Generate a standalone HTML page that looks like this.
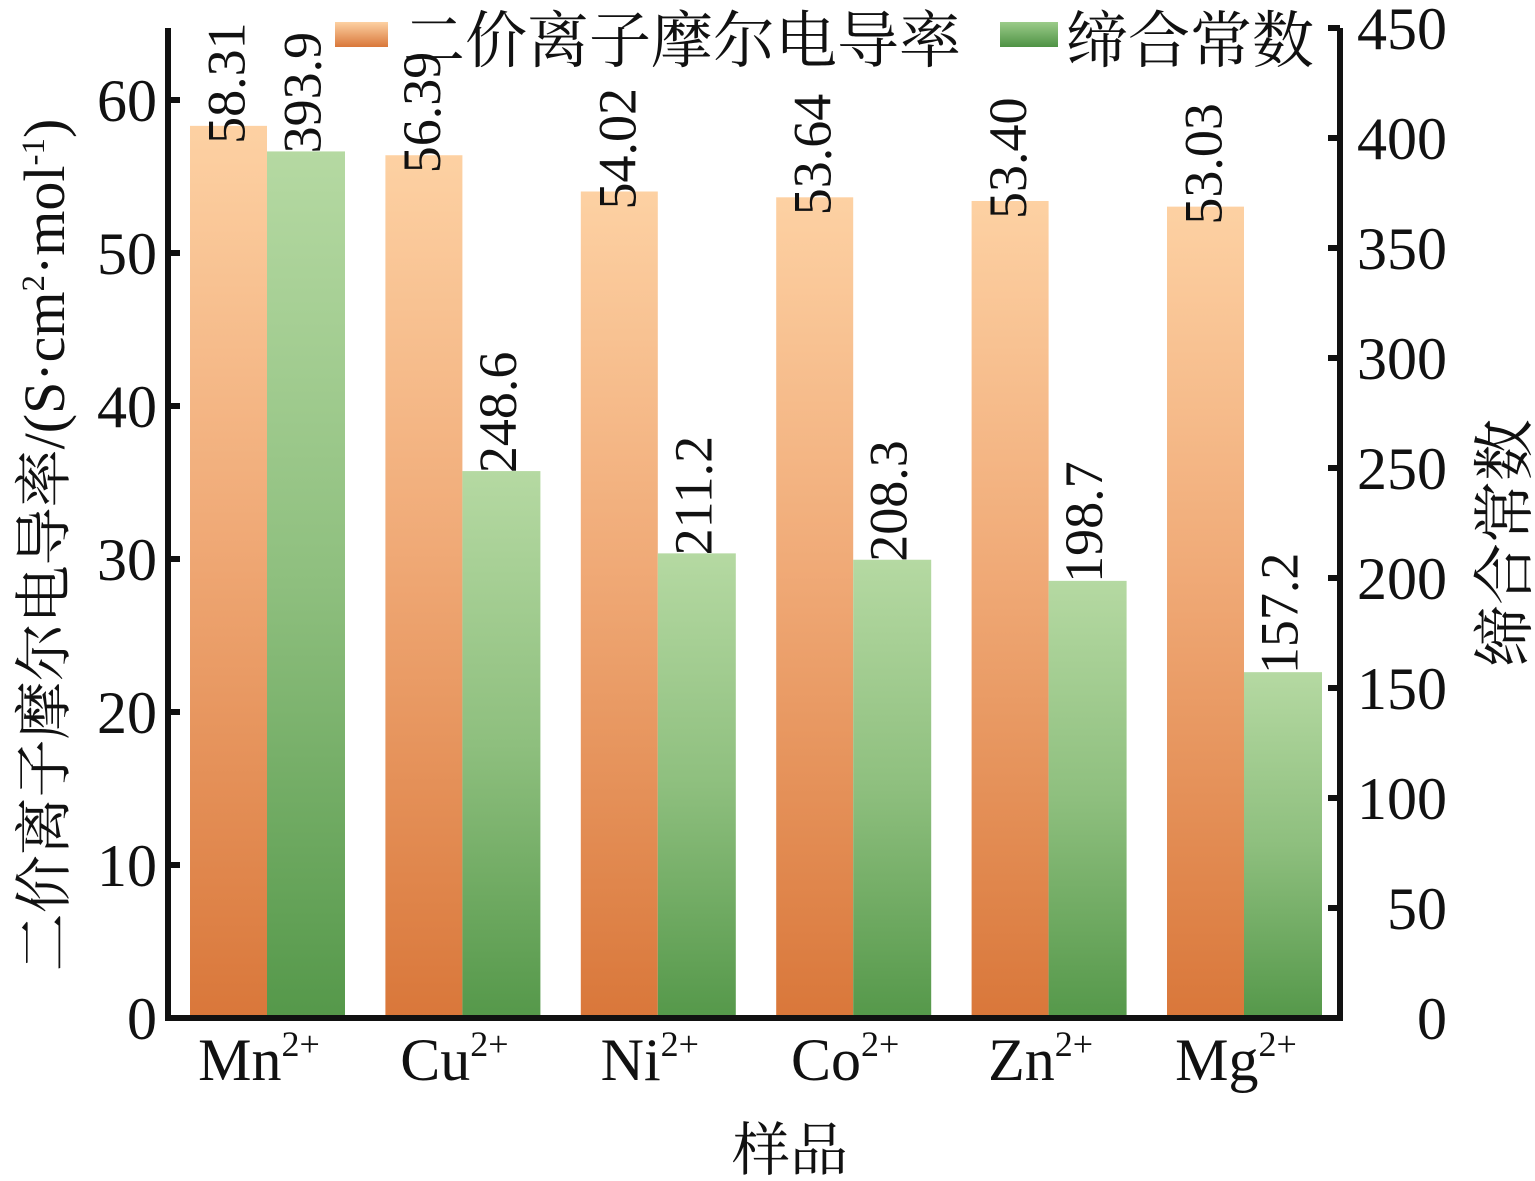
<!DOCTYPE html>
<html><head><meta charset="utf-8"><style>
html,body{margin:0;padding:0;background:#fff;}
svg{display:block;}
text{font-family:"Liberation Serif","Noto Serif CJK SC",serif;fill:#111;}
</style></head><body>
<svg id="chart" width="1535" height="1181" viewBox="0 0 1535 1181">
<defs>
<linearGradient id="gO" x1="0" y1="0" x2="0" y2="1"><stop offset="0" stop-color="#fdd1a3"/><stop offset="0.45" stop-color="#f0aa77"/><stop offset="1" stop-color="#d9773a"/></linearGradient>
<linearGradient id="gG" x1="0" y1="0" x2="0" y2="1"><stop offset="0" stop-color="#b5d9a2"/><stop offset="0.5" stop-color="#8ebf7e"/><stop offset="1" stop-color="#55984a"/></linearGradient>
<linearGradient id="lgO" x1="0" y1="0" x2="0" y2="1"><stop offset="0" stop-color="#fdd1a3"/><stop offset="1" stop-color="#d9773a"/></linearGradient>
<linearGradient id="lgG" x1="0" y1="0" x2="0" y2="1"><stop offset="0" stop-color="#9ccc8a"/><stop offset="1" stop-color="#4e9244"/></linearGradient>
</defs>
<g id="bars"></g>
<g id="labels"></g>
<g id="axes"></g>
<g>
<rect x="335" y="22" width="53" height="25" fill="url(#lgO)"/>
<text x="403" y="62" font-size="62">二价离子摩尔电导率</text>
<rect x="1000" y="22" width="58" height="25" fill="url(#lgG)"/>
<text x="1066" y="62" font-size="62">缔合常数</text>
</g>
<text transform="translate(64,545) rotate(-90)" text-anchor="middle" font-size="58">二价离子摩尔电导率/(S·cm<tspan font-size="33" dy="-20">2</tspan><tspan dy="20">·mol</tspan><tspan font-size="33" dy="-20">-1</tspan><tspan dy="20">)</tspan></text>
<text transform="translate(1526,543) rotate(-90)" text-anchor="middle" font-size="62">缔合常数</text>
<text x="790" y="1170" text-anchor="middle" font-size="58">样品</text>
</svg>
<script>
const categories = ["Mn", "Cu", "Ni", "Co", "Zn", "Mg"];
const conductivity = [58.31, 56.39, 54.02, 53.64, 53.40, 53.03];
const association = [393.9, 248.6, 211.2, 208.3, 198.7, 157.2];
const conductivityLabels = ["58.31", "56.39", "54.02", "53.64", "53.40", "53.03"];
const associationLabels = ["393.9", "248.6", "211.2", "208.3", "198.7", "157.2"];
const leftTicks = [0, 10, 20, 30, 40, 50, 60];
const rightTicks = [0, 50, 100, 150, 200, 250, 300, 350, 400, 450];

const NS = "http://www.w3.org/2000/svg";
const X0 = 168, X1 = 1340, Y0 = 1018;
const yL = v => Y0 - v * (918 / 60);
const yR = v => Y0 - v * (990 / 450);
const groupX = i => 190 + i * 195.4;
const BW = 77;
function mk(tag, attrs, parent) {
  const e = document.createElementNS(NS, tag);
  for (const k in attrs) e.setAttribute(k, attrs[k]);
  parent.appendChild(e);
  return e;
}
const bars = document.getElementById("bars");
const labels = document.getElementById("labels");
const axes = document.getElementById("axes");

categories.forEach((c, i) => {
  const x = groupX(i);
  const yo = yL(conductivity[i]);
  const r1 = mk("rect", {x: x, y: yo, width: BW, height: Y0 - yo, fill: "url(#gO)"}, bars);
  
  
  const yg = yR(association[i]);
  const r2 = mk("rect", {x: x + BW, y: yg, width: BW + 1, height: Y0 - yg, fill: "url(#gG)"}, bars);
  
  

  const t1 = mk("text", {transform: "translate(" + (x + BW / 2 + 16) + "," + (yo + 18) + ") rotate(-90)", "font-size": "54"}, labels);
  t1.textContent = conductivityLabels[i];
  
  
  const t2 = mk("text", {transform: "translate(" + (x + BW + BW / 2 + 15) + "," + (yg + 2) + ") rotate(-90)", "font-size": "54"}, labels);
  t2.textContent = associationLabels[i];
  
  

  const xl = mk("text", {x: x + BW - 8, y: 1080, "text-anchor": "middle", "font-size": "60"}, labels);
  
  
  xl.textContent = c;
  const sup = mk("tspan", {"font-size": "36", dy: "-24"}, xl);
  sup.textContent = "2+";
});

const axL = mk("path", {d: "M" + X0 + ",28 V" + Y0 + " H" + X1 + " V28", fill: "none", stroke: "#111", "stroke-width": "6", "stroke-linejoin": "miter"}, axes);


mk("path", {d: "M" + (X1 - 12) + ",28 H" + X1, stroke: "#111", "stroke-width": "6"}, axes);

leftTicks.forEach(v => {
  const y = yL(v);
  const tk = mk("line", {x1: X0, x2: X0 + 12, y1: y, y2: y, stroke: "#111", "stroke-width": "6"}, axes);
  
  
  const t = mk("text", {x: 157, y: y + 21, "text-anchor": "end", "font-size": "60"}, axes);
  t.textContent = v;
  
  
});
rightTicks.forEach(v => {
  const y = yR(v);
  const tk = mk("line", {x1: X1 - 12, x2: X1, y1: y, y2: y, stroke: "#111", "stroke-width": "6"}, axes);
  
  
  const t = mk("text", {x: 1447, y: y + 21, "text-anchor": "end", "font-size": "60"}, axes);
  t.textContent = v;
  
  
});
</script>
</body></html>
